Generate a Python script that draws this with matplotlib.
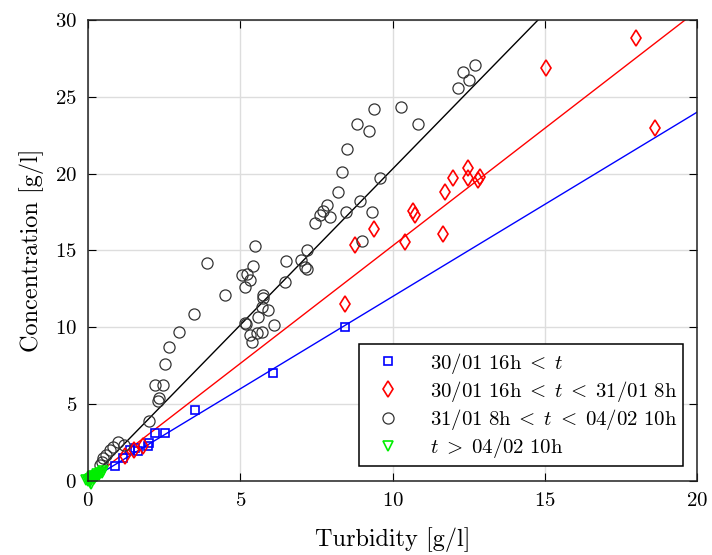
import numpy as np
import matplotlib
matplotlib.use("Agg")
import matplotlib.pyplot as plt

plt.rcParams['font.family'] = 'serif'
plt.rcParams['font.serif'] = ['cmr10', 'DejaVu Serif']
plt.rcParams['mathtext.fontset'] = 'cm'
plt.rcParams['axes.formatter.use_mathtext'] = True

# 30/01 16h < t  (bleu)
blue_x = [0.89, 1.16, 1.38, 1.54, 1.65, 1.98, 2.0, 2.2, 2.53, 3.51, 6.08, 8.44]
blue_y = [0.98, 1.48, 2.0, 2.12, 1.97, 2.28, 2.5, 3.1, 3.1, 4.6, 7.03, 10.0]

# 30/01 16h < t < 31/01 8h  (rouge)
red_x = [1.2, 1.5, 1.8, 8.44, 8.77, 9.39, 10.41, 10.67, 10.74, 11.66, 11.72,
         11.99, 12.48, 12.48, 12.8, 12.87, 15.04, 18.0, 18.62]
red_y = [1.6, 2.0, 2.3, 11.5, 15.35, 16.4, 15.55, 17.6, 17.3, 16.1, 18.8,
         19.7, 20.4, 19.7, 19.6, 19.8, 26.9, 28.8, 22.97]

# 31/01 8h < t < 04/02 10h  (noir)
black_x = [0.39, 0.45, 0.5, 0.59, 0.72, 0.83, 1.0, 1.18, 2.0, 2.31, 2.34, 2.2,
           2.47, 2.53, 2.67, 3.0, 3.49, 3.92, 4.5, 5.05, 5.16, 5.21, 5.32, 5.16,
           5.2, 5.32, 5.38, 5.43, 5.48, 5.54, 5.59, 5.7, 5.7, 5.74, 5.76, 5.92,
           6.11, 6.47, 6.5, 7.01, 7.13, 7.18, 7.18, 7.45, 7.62, 7.72, 7.84,
           7.95, 8.2, 8.34, 8.46, 8.5, 8.83, 8.93, 8.99, 9.23, 9.32, 9.39,
           9.59, 10.27, 10.84, 12.15, 12.32, 12.51, 12.71]
black_y = [1.04, 1.26, 1.48, 1.7, 2.0, 2.23, 2.56, 2.34, 3.92, 5.2, 5.4, 6.25,
           6.25, 7.6, 8.74, 9.67, 10.9, 14.2, 12.1, 13.4, 12.6, 13.5, 13.1,
           10.3, 10.2, 9.5, 9.06, 14.0, 15.3, 9.6, 10.7, 9.7, 11.3, 12.1, 11.9,
           11.1, 10.15, 12.97, 14.3, 14.4, 13.9, 13.8, 15.0, 16.8, 17.3, 17.6,
           17.95, 17.2, 18.8, 20.1, 17.5, 21.6, 23.2, 18.2, 15.6, 22.8, 17.5,
           24.2, 19.7, 24.35, 23.2, 25.6, 26.6, 26.1, 27.1]

# t > 04/02 10h  (vert)
green_x = [0.0, 0.03, 0.06, 0.1, 0.12, 0.15, 0.18, 0.2, 0.25, 0.28, 0.3, 0.35,
           0.4, 0.45, 0.5, 0.05, 0.08, 0.22, -0.05, 0.1]
green_y = [0.0, 0.05, 0.15, 0.1, 0.25, 0.2, 0.3, 0.15, 0.35, 0.3, 0.45, 0.4,
           0.5, 0.55, 0.65, -0.05, 0.05, 0.25, 0.05, -0.2]

# pentes des droites de regression
slope_blue = 1.2
slope_red = 1.53
slope_black = 2.03

labels = [r'$\mathrm{30/01\ 16h}\;<\;t$',
          r'$\mathrm{30/01\ 16h}\;<\;t\;<\;\mathrm{31/01\ 8h}$',
          r'$\mathrm{31/01\ 8h}\;<\;t\;<\;\mathrm{04/02\ 10h}$',
          r'$t\;>\;\mathrm{04/02\ 10h}$']

fig = plt.figure(figsize=(7.12, 5.55), dpi=100)
ax = fig.add_axes([0.1236, 0.1333, 0.8554, 0.8307])

xl = np.array([0, 20])
ax.plot(xl, slope_blue * xl, color='blue', lw=1.0)
ax.plot(xl, slope_red * xl, color='red', lw=1.0)
ax.plot(xl, slope_black * xl, color='black', lw=1.0)

ax.plot(blue_x, blue_y, 's', mfc='none', mec='blue', ms=6, mew=1.2,
        label=labels[0], clip_on=False)
ax.plot(red_x, red_y, 'd', mfc='none', mec='red', ms=8, mew=1.2,
        label=labels[1], clip_on=False)
ax.plot(black_x, black_y, 'o', mfc='none', mec='#333333', ms=8, mew=0.9,
        label=labels[2], clip_on=False)
ax.plot(green_x, green_y, 'v', mfc='none', mec='#00ee00', ms=7, mew=1.2,
        label=labels[3], clip_on=False)

ax.set_xlim(0, 20)
ax.set_ylim(0, 30)
ax.set_xticks([0, 5, 10, 15, 20])
ax.set_yticks([0, 5, 10, 15, 20, 25, 30])
ax.grid(True, color='#dddddd', lw=1.0)
ax.set_axisbelow(True)
ax.tick_params(direction='in', top=True, right=True, labelsize=15, length=6)
ax.tick_params(axis='x', pad=8)
ax.tick_params(axis='y', pad=8)
for sp in ax.spines.values():
    sp.set_linewidth(1.1)
    sp.set_color('#222222')

ax.set_xlabel('Turbidity [g/l]', fontsize=17.5, labelpad=12)
ax.set_ylabel('Concentration [g/l]', fontsize=17.5, labelpad=8)

leg = ax.legend(loc='lower right', bbox_to_anchor=(0.977, 0.032), fontsize=15,
                fancybox=False, edgecolor='black', framealpha=1,
                handlelength=2.2, handletextpad=0.9, labelspacing=0.15,
                borderpad=0.3, borderaxespad=0)
leg.get_frame().set_linewidth(1.1)

fig.savefig('out.png', dpi=100)
